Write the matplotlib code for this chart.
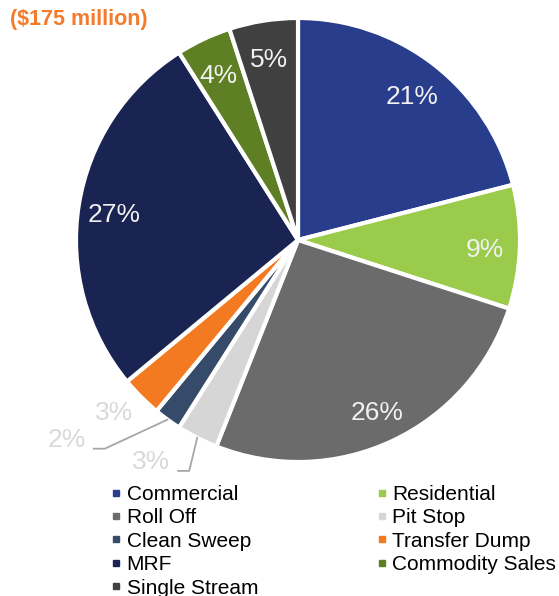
import numpy as np
import matplotlib
matplotlib.use("Agg")
import matplotlib.pyplot as plt
from matplotlib.lines import Line2D

plt.rcParams["font.family"] = ["Liberation Sans", "DejaVu Sans"]

# ---------------------------------------------------------------------------
# Data
# ---------------------------------------------------------------------------
categories = ["Commercial", "Residential", "Roll Off", "Pit Stop", "Clean Sweep",
              "Transfer Dump", "MRF", "Commodity Sales", "Single Stream"]
shares = [21, 9, 26, 3, 2, 3, 27, 4, 5]
colors = ["#283D8C", "#9BCB4A", "#6B6B6B", "#D6D6D6", "#364A6A",
          "#F47A22", "#1A2452", "#5E7F24", "#404040"]
title = "($175 million)"

# ---------------------------------------------------------------------------
# Figure
# ---------------------------------------------------------------------------
W, H = 559, 596
fig = plt.figure(figsize=(W / 100, H / 100), dpi=100)
cx, cy, R = 298, 240, 222
ax = fig.add_axes([(cx - R) / W, (H - cy - R) / H, 2 * R / W, 2 * R / H])

wedges, _ = ax.pie(shares, colors=colors, startangle=90, counterclock=False,
                   radius=1, wedgeprops=dict(edgecolor="white", linewidth=3))
ax.set_xlim(-1, 1); ax.set_ylim(-1, 1); ax.set_aspect("equal")
ax.axis("off")

# percentage labels
total = sum(shares)
cum = np.cumsum(shares) - np.array(shares) / 2
mid_ang = np.deg2rad(90 - cum / total * 360)
small = {"Pit Stop": (-0.66, -1.0), "Clean Sweep": (-1.04, -0.9),
         "Transfer Dump": (-0.83, -0.78)}
for name, v, a in zip(categories, shares, mid_ang):
    if name in small:
        tx, ty = small[name]
        ax.text(tx, ty, f"{v}%", ha="center", va="center", fontsize=19,
                color="#D9D9D9", clip_on=False)
        if name != "Transfer Dump":
            ex, ey = np.cos(a), np.sin(a)
            ax.plot([tx + 0.12, tx + 0.17, ex], [ty - 0.04, ty - 0.04, ey],
                    color="#A6A6A6", lw=1.3, clip_on=False)
    else:
        r = 0.84
        ax.text(r * np.cos(a), r * np.sin(a) - 0.02, f"{v}%", ha="center",
                va="center", fontsize=19, color="#F2F2F2")

fig.text(10 / W, 1 - 9 / H, title, ha="left", va="top", fontsize=15.5,
         fontweight="bold", color="#F47A2C")

# legend: column-first ordering to get row-major reading
order = [0, 2, 4, 6, 8, 1, 3, 5, 7]
handles = [Line2D([], [], marker="s", ls="none", markersize=5,
                  markerfacecolor=colors[i], markeredgecolor=colors[i]) for i in order]
labels = [categories[i] for i in order]
fig.legend(handles, labels, ncol=2, loc="upper left",
           bbox_to_anchor=(112 / W, 1 - 485 / H), frameon=False, fontsize=15,
           handlelength=0.4, handletextpad=0.3, labelspacing=0.21,
           columnspacing=5.75, borderaxespad=0, borderpad=0)

plt.savefig("out.png", dpi=100)
plt.close()
